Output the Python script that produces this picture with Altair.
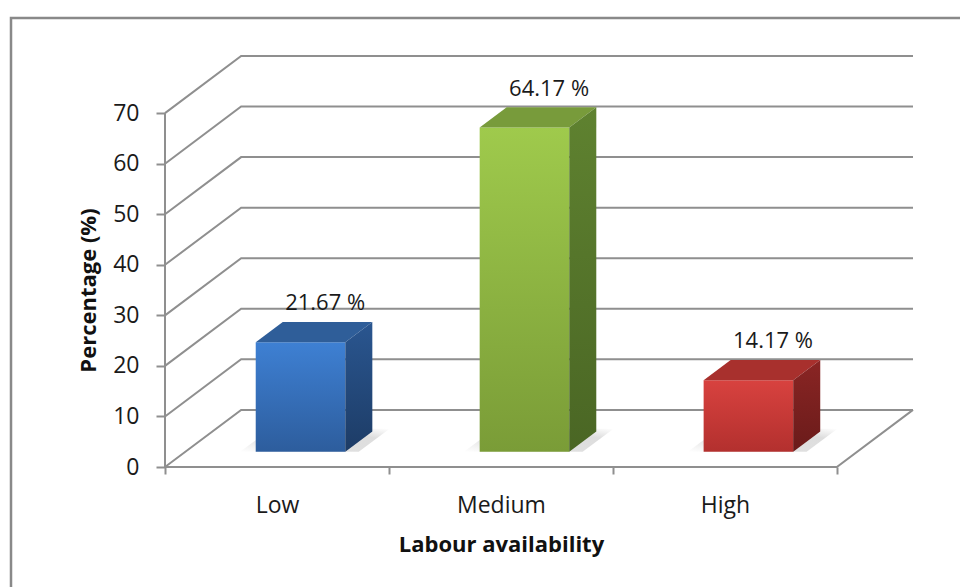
import altair as alt
import pandas as pd

# ---- data -------------------------------------------------------------
categories = ["Low", "Medium", "High"]
percentages = [21.67, 64.17, 14.17]
value_labels = ["21.67 %", "64.17 %", "14.17 %"]
y_ticks = [0, 10, 20, 30, 40, 50, 60, 70]

# face colours per bar (front gradient top/bottom, top face, side gradient)
front_light = ["#3e80d3", "#9fca4c", "#d8423f"]
front_dark = ["#2d5d9d", "#7a9c37", "#b3302e"]
top_face = ["#2f5e99", "#789b3b", "#a8302d"]
side_light = ["#2a5690", "#5f8230", "#8a2524"]
side_dark = ["#1d3c66", "#4a6624", "#6a1b1a"]

# ---- 3-D projection parameters (in data units) ------------------------
DEPTH_X = 0.34      # horizontal shift of the back wall, in category units
DEPTH_Y = 11.3      # vertical shift of the back wall, in percentage units
Z_FRONT = 0.265     # depth of a bar's front face (0 = front, 1 = back wall)
Z_BACK = 0.62       # depth of a bar's back face
BAR_HALF = 0.2      # half bar width, in category units
BAR_SHIFT = 0.515   # bar centre within its category slot
LABEL_RISE = 9.3    # value label baseline above the bar value
LABEL_SHIFT = 0.2   # value label offset to the right of the bar centre

n = len(categories)
X_MAX = n + DEPTH_X
Y_MAX = max(y_ticks) + DEPTH_Y

FONT = "Open Sans"
GRID = "#8f8f8f"
TEXT = "#1a1a1a"

x_scale = alt.Scale(domain=[0, X_MAX], nice=False, zero=False)
y_scale = alt.Scale(domain=[0, Y_MAX], nice=False, zero=False)

# ---- grid: left-wall diagonals + back-wall lines + floor ---------------
grid_rows = []
for v in y_ticks:
    pts = [(0, v), (DEPTH_X, v + DEPTH_Y), (n + DEPTH_X, v + DEPTH_Y)]
    for k, (gx, gy) in enumerate(pts):
        grid_rows.append({"line": f"g{v}", "k": k, "x": gx, "y": gy})
for k, (gx, gy) in enumerate([(0, 0), (n, 0), (n + DEPTH_X, DEPTH_Y)]):
    grid_rows.append({"line": "floor", "k": k, "x": gx, "y": gy})
grid_df = pd.DataFrame(grid_rows)

label_expr = "datum.value % 1 == 0.5 ? [" + ",".join(
    f"'{c}'" for c in categories) + "][floor(datum.value)] : ''"

x_axis = alt.Axis(
    values=[i * 0.5 for i in range(2 * n + 1)],
    labelExpr=label_expr,
    tickOpacity={"condition": {"test": "datum.value % 1 == 0", "value": 1}, "value": 0},
    tickSize=7, tickWidth=2, tickColor=GRID,
    domain=False, grid=False,
    labelFont=FONT, labelFontSize=23, labelColor=TEXT,
    labelBaseline="alphabetic", labelPadding=38,
    labelOverlap=False, labelFlush=False, labelBound=False,
    title="Labour availability", titleFont=FONT, titleFontSize=22,
    titleFontWeight="bold", titleColor="#111111",
    titleX=336, titleY=84, titleAlign="center", titleBaseline="alphabetic",
)
y_axis = alt.Axis(
    values=y_ticks,
    domain=False, grid=False,
    tickSize=9, tickWidth=2, tickColor=GRID,
    labelFont=FONT, labelFontSize=23, labelColor=TEXT, labelPadding=17,
    title="Percentage (%)", titleFont=FONT, titleFontSize=22,
    titleFontWeight="bold", titleColor="#111111",
    titleAngle=270, titleX=-77, titleY=234,
    titleAlign="center", titleBaseline="middle",
)


def X(field):
    return alt.X(field, scale=x_scale, axis=x_axis)


def Y(field):
    return alt.Y(field, scale=y_scale, axis=y_axis)


# outer chart border
frame = alt.Chart(pd.DataFrame({"a": [0]})).mark_rect(
    fillOpacity=0, stroke="#898989", strokeWidth=2.5
).encode(
    x=alt.value(-154), x2=alt.value(820), y=alt.value(-38), y2=alt.value(560)
)

grid = alt.Chart(grid_df).mark_line(color=GRID, strokeWidth=2).encode(
    x=X("x:Q"), y=Y("y:Q"), detail="line:N", order="k:Q",
)

axis_line = alt.Chart(pd.DataFrame({"x": [0], "y": [0], "y2": [max(y_ticks)]})).mark_rule(
    color=GRID, strokeWidth=2
).encode(x=X("x:Q"), y=Y("y:Q"), y2="y2:Q")

layers = [frame, grid, axis_line]


def vgrad(c1, c2):
    return alt.Gradient(
        gradient="linear", x1=0, x2=0, y1=0, y2=1,
        stops=[alt.GradientStop(color=c1, offset=0), alt.GradientStop(color=c2, offset=1)],
    )


for i, v in enumerate(percentages):
    xl = i + BAR_SHIFT - BAR_HALF
    xr = i + BAR_SHIFT + BAR_HALF

    # soft shadow on the floor
    z_s = Z_BACK + 0.05
    shadow_df = pd.DataFrame({
        "y": [Z_FRONT * DEPTH_Y, z_s * DEPTH_Y],
        "x": [xl - 0.07 + Z_FRONT * DEPTH_X, xl - 0.07 + z_s * DEPTH_X],
        "x2": [xr + 0.06 + Z_FRONT * DEPTH_X, xr + 0.06 + z_s * DEPTH_X],
    })
    layers.append(
        alt.Chart(shadow_df).mark_area(
            orient="horizontal",
            color=alt.Gradient(
                gradient="linear", x1=0, x2=1, y1=1, y2=0,
                stops=[alt.GradientStop(color="#ffffff", offset=0),
                       alt.GradientStop(color="#d2d2d2", offset=0.4),
                       alt.GradientStop(color="#cfcfcf", offset=0.75),
                       alt.GradientStop(color="#ffffff", offset=1)],
            ),
            opacity=0.7,
        ).encode(y=Y("y:Q"), x=X("x:Q"), x2="x2:Q")
    )

    # front face
    front_df = pd.DataFrame({
        "x": [xl + Z_FRONT * DEPTH_X], "x2": [xr + Z_FRONT * DEPTH_X],
        "y": [Z_FRONT * DEPTH_Y], "y2": [v + Z_FRONT * DEPTH_Y],
    })
    layers.append(
        alt.Chart(front_df).mark_rect(color=vgrad(front_light[i], front_dark[i])).encode(
            x=X("x:Q"), x2="x2:Q", y=Y("y:Q"), y2="y2:Q",
        )
    )

    # top face
    top_df = pd.DataFrame({
        "y": [v + Z_FRONT * DEPTH_Y, v + Z_BACK * DEPTH_Y],
        "x": [xl + Z_FRONT * DEPTH_X, xl + Z_BACK * DEPTH_X],
        "x2": [xr + Z_FRONT * DEPTH_X, xr + Z_BACK * DEPTH_X],
    })
    layers.append(
        alt.Chart(top_df).mark_area(orient="horizontal", color=top_face[i]).encode(
            y=Y("y:Q"), x=X("x:Q"), x2="x2:Q",
        )
    )

    # right side face
    side_df = pd.DataFrame({
        "x": [xr + Z_FRONT * DEPTH_X, xr + Z_BACK * DEPTH_X],
        "y": [Z_FRONT * DEPTH_Y, Z_BACK * DEPTH_Y],
        "y2": [v + Z_FRONT * DEPTH_Y, v + Z_BACK * DEPTH_Y],
    })
    layers.append(
        alt.Chart(side_df).mark_area(orient="vertical", color=vgrad(side_light[i], side_dark[i])).encode(
            x=X("x:Q"), y=Y("y:Q"), y2="y2:Q",
        )
    )

# value labels
label_df = pd.DataFrame({
    "x": [i + BAR_SHIFT + LABEL_SHIFT for i in range(n)],
    "y": [v + LABEL_RISE for v in percentages],
    "label": value_labels,
})
layers.append(
    alt.Chart(label_df).mark_text(
        font=FONT, fontSize=22, color=TEXT, baseline="alphabetic", align="center"
    ).encode(x=X("x:Q"), y=Y("y:Q"), text="label:N")
)

chart = alt.layer(*layers).properties(
    width=748,
    height=411,
    padding={"left": 165, "top": 56, "right": 47, "bottom": 120},
    autosize=alt.AutoSizeParams(type="none"),
    background="white",
).configure_view(stroke=None)

chart.save("out.html", embed_options={"renderer": "svg", "actions": False})
